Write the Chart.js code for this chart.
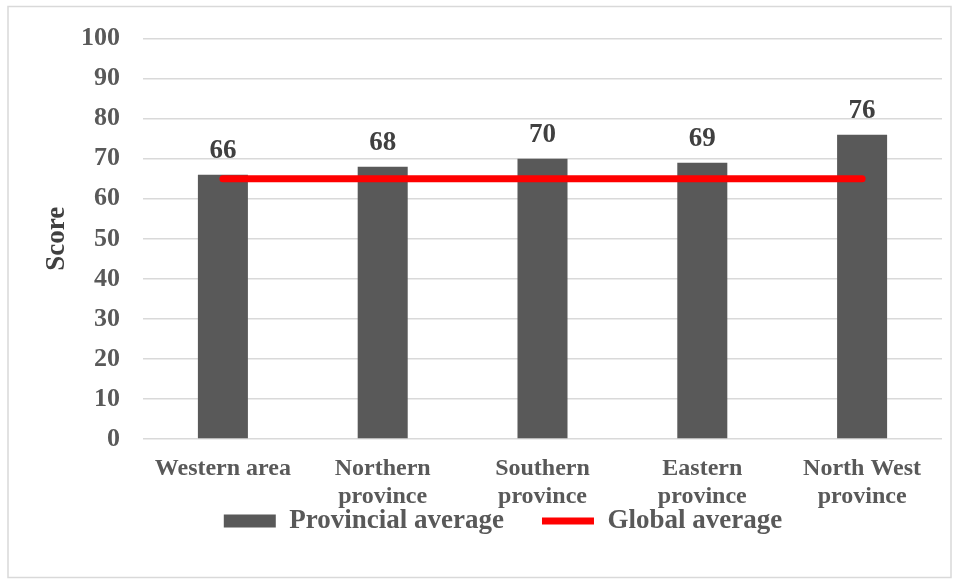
<!DOCTYPE html>
<html>
<head>
<meta charset="utf-8">
<script src="https://cdn.jsdelivr.net/npm/chart.js@4.4.1/dist/chart.umd.min.js"></script>
<style>
html,body{margin:0;padding:0;background:#fff;}
#wrap{width:960px;height:584px;position:relative;}
</style>
</head>
<body>
<div id="wrap"><canvas id="c" width="960" height="584"></canvas></div>
<script>
const categories = [["Western area"], ["Northern", "province"], ["Southern", "province"], ["Eastern", "province"], ["North West", "province"]];
const provincialAverage = [66, 68, 70, 69, 76];
const globalAverage = [65, 65, 65, 65, 65];
const yTicks = [0, 10, 20, 30, 40, 50, 60, 70, 80, 90, 100];

const FONT = "'Liberation Serif', 'Times New Roman', serif";

const framePlugin = {
  id: 'frame',
  beforeDraw(chart) {
    const ctx = chart.ctx;
    ctx.save();
    ctx.fillStyle = '#fff';
    ctx.fillRect(0, 0, chart.width, chart.height);
    ctx.strokeStyle = '#d9d9d9';
    ctx.lineWidth = 1.5;
    ctx.strokeRect(8, 6.5, 943, 571);
    ctx.restore();
  }
};

const legendShift = {
  id: 'legendShift',
  afterLayout(chart) {
    const lg = chart.legend;
    if (lg) {
      lg.left += 32; lg.right += 32;
      lg.top -= 39.5; lg.bottom -= 39.5;
    }
  }
};

const labelPlugin = {
  id: 'barLabels',
  afterDatasetsDraw(chart) {
    const ctx = chart.ctx;
    const meta = chart.getDatasetMeta(1);
    ctx.save();
    ctx.font = "bold 27px " + FONT;
    ctx.fillStyle = '#404040';
    ctx.textAlign = 'center';
    ctx.textBaseline = 'alphabetic';
    meta.data.forEach((bar, i) => {
      ctx.fillText(String(provincialAverage[i]), bar.x, bar.y - 17);
    });
    ctx.restore();
  }
};

new Chart(document.getElementById('c'), {
  data: {
    labels: categories,
    datasets: [
      {
        type: 'line',
        label: 'Global average',
        data: globalAverage,
        borderColor: '#ff0000',
        backgroundColor: '#ff0000',
        borderWidth: 7,
        borderCapStyle: 'round',
        pointRadius: 0,
        pointHoverRadius: 0,
        pointStyle: 'line',
        order: 0
      },
      {
        type: 'bar',
        label: 'Provincial average',
        data: provincialAverage,
        backgroundColor: '#595959',
        borderWidth: 0,
        pointStyle: 'rect',
        barPercentage: 0.313,
        categoryPercentage: 1,
        order: 1
      }
    ]
  },
  options: {
    responsive: false,
    animation: false,
    events: [],
    layout: { padding: { left: 0, right: 18, top: 36, bottom: 0 } },
    plugins: {
      tooltip: { enabled: false },
      legend: {
        position: 'bottom',
        reverse: true,
        labels: {
          usePointStyle: true,
          pointStyleWidth: 52,
          boxHeight: 13,
          padding: 38,
          color: '#595959',
          font: { family: FONT, size: 27, weight: 'bold' }
        }
      }
    },
    scales: {
      x: {
        grid: { display: false, drawTicks: false },
        border: { display: false },
        ticks: {
          color: '#595959',
          padding: 16,
          maxRotation: 0,
          autoSkip: false,
          font: { family: FONT, size: 24, weight: 'bold', lineHeight: 1.17 }
        },
        afterFit(scale) { scale.height = 70; }
      },
      y: {
        min: 0,
        max: 100,
        afterBuildTicks(scale) { scale.ticks = yTicks.map(v => ({ value: v })); },
        grid: { color: '#d9d9d9', lineWidth: 1.5, drawTicks: false },
        border: { display: false },
        ticks: {
          color: '#595959',
          padding: 23,
          font: { family: FONT, size: 26, weight: 'bold' }
        },
        title: {
          display: true,
          text: 'Score',
          color: '#404040',
          font: { family: FONT, size: 27, weight: 'bold' },
          padding: { top: 41, bottom: 0 }
        },
        afterFit(scale) { scale.width = 143; }
      }
    }
  },
  plugins: [framePlugin, legendShift, labelPlugin]
});
</script>
</body>
</html>
